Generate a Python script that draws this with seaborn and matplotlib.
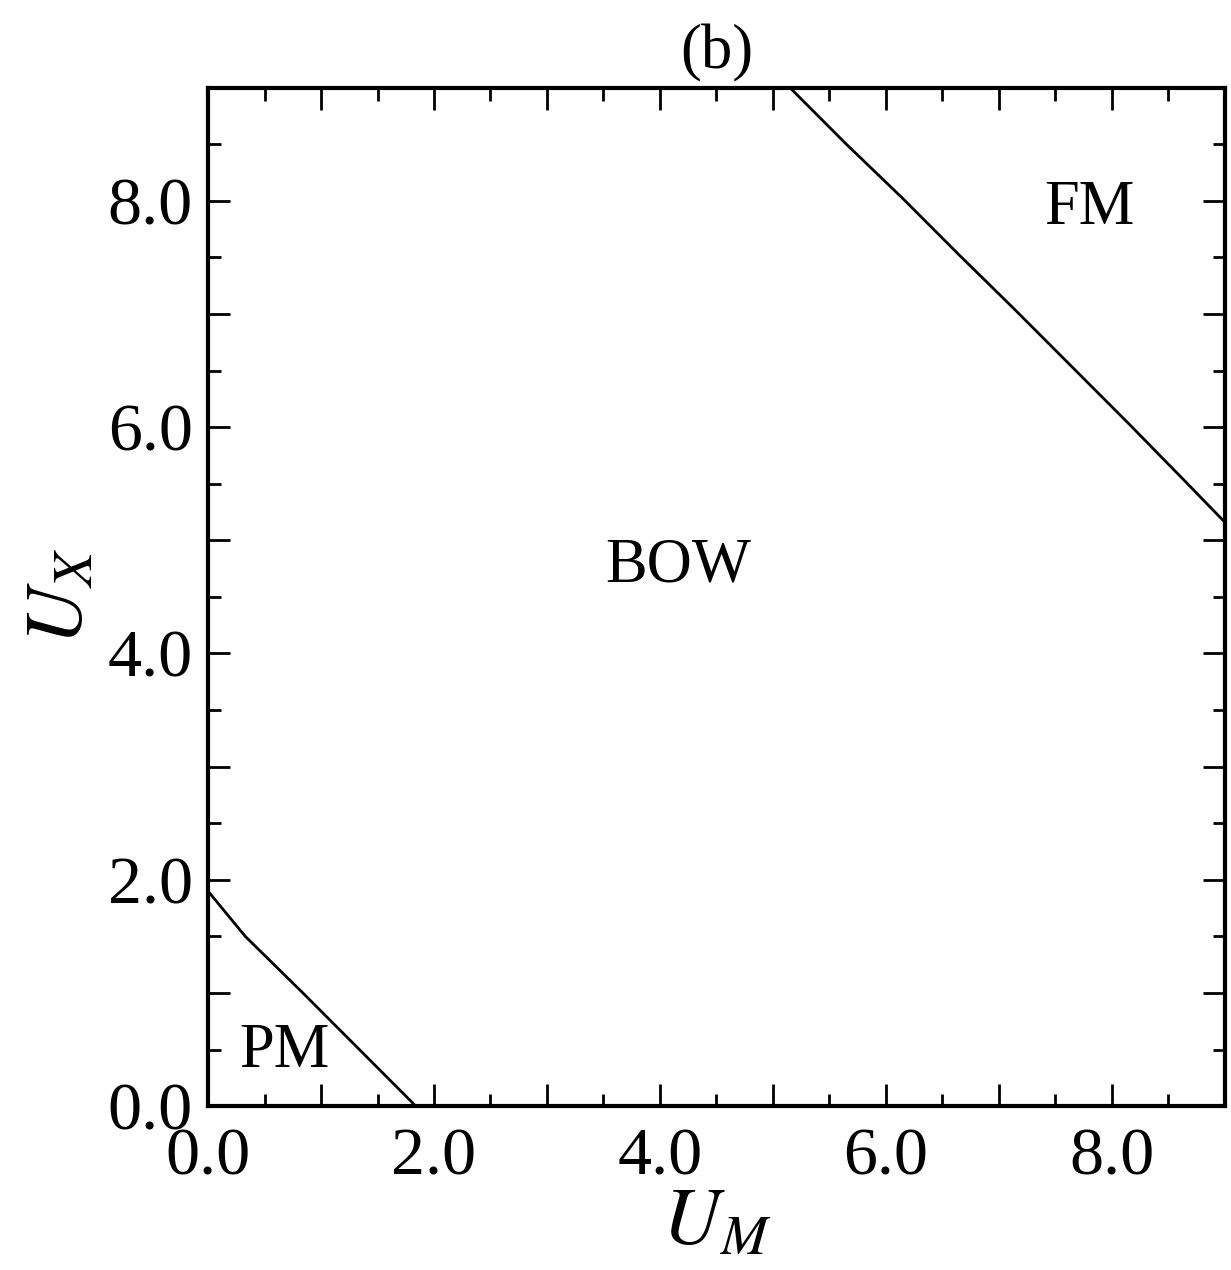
import numpy as np
import pandas as pd
import matplotlib
matplotlib.use("Agg")
import matplotlib.pyplot as plt
from matplotlib.ticker import MultipleLocator, FuncFormatter
import seaborn as sns

# Phase boundaries
UM_fm = [5.15, 5.65, 6.15, 6.65, 7.15, 7.65, 8.15, 8.65, 9.0]
UX_fm = [9.0, 8.5, 8.02, 7.52, 7.03, 6.53, 6.03, 5.52, 5.16]
UM_pm = [0.0, 0.33, 0.84, 1.34, 1.84]
UX_pm = [1.9, 1.5, 1.0, 0.5, 0.0]

phase_names = ["BOW", "FM", "PM"]
phase_x = [4.16, 7.8, 0.68]
phase_y = [4.77, 7.93, 0.48]

sns.set_theme(style="ticks")
plt.rcParams["font.family"] = ["Liberation Serif", "DejaVu Serif"]
plt.rcParams["mathtext.fontset"] = "stix"
for k in ["text.color", "axes.labelcolor", "xtick.color", "ytick.color", "axes.edgecolor"]:
    plt.rcParams[k] = "black"

fig = plt.figure(figsize=(12.31, 12.70), dpi=100)
ax = fig.add_axes([0.169, 0.129, 0.826, 0.802])

df_fm = pd.DataFrame({"UM": UM_fm, "UX": UX_fm})
df_pm = pd.DataFrame({"UM": UM_pm, "UX": UX_pm})
sns.lineplot(data=df_fm, x="UM", y="UX", color="black", lw=2.0, ax=ax, sort=False)
sns.lineplot(data=df_pm, x="UM", y="UX", color="black", lw=2.0, ax=ax, sort=False)

ax.set_xlim(0, 9)
ax.set_ylim(0, 9)

fmt = FuncFormatter(lambda v, p: f"{v:.1f}" if abs(v - round(v)) < 1e-6 and int(round(v)) % 2 == 0 else "")
for axis in (ax.xaxis, ax.yaxis):
    axis.set_major_locator(MultipleLocator(1))
    axis.set_minor_locator(MultipleLocator(0.5))
    axis.set_major_formatter(fmt)

ax.tick_params(which="both", direction="in", top=True, right=True, labelsize=49, color="black",
               labelcolor="black")
ax.tick_params(axis="x", which="both", pad=15)
ax.tick_params(axis="y", which="both", pad=11)
ax.tick_params(which="major", length=16, width=2)
ax.tick_params(which="minor", length=9, width=2)
for s in ax.spines.values():
    s.set_linewidth(3)
    s.set_color("black")

ax.set_xlabel(r"$U_{M}$", fontsize=58, labelpad=0)
ax.set_ylabel(r"$U_{X}$", fontsize=58, labelpad=6)
ax.set_title("(b)", fontsize=45, pad=14)

for name, x, y in zip(phase_names, phase_x, phase_y):
    ax.text(x, y, name, fontsize=45, ha="center", va="center", color="black")

fig.savefig("out.png", dpi=100, facecolor="white")
